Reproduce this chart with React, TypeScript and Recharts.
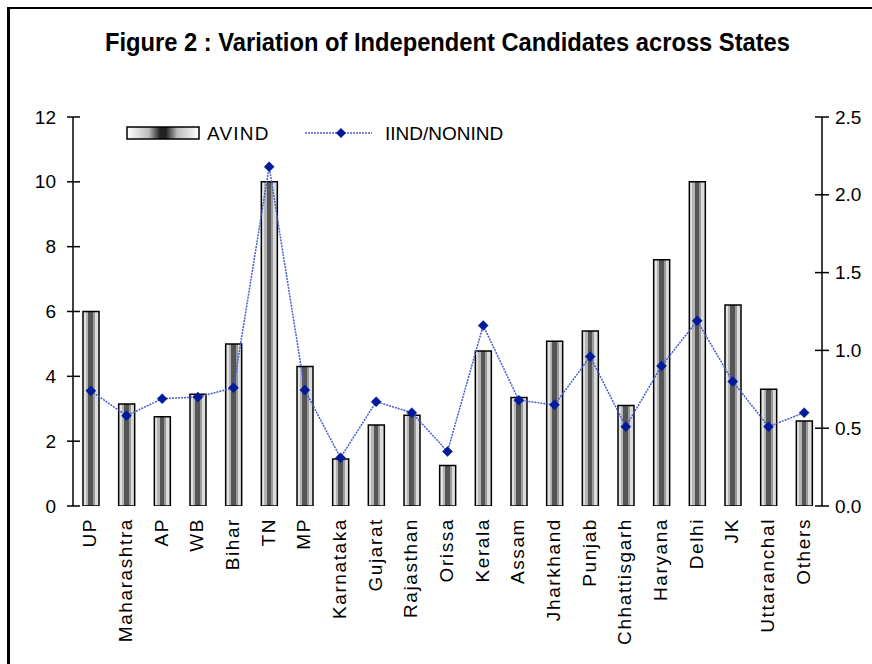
import React from 'react';
import { ComposedChart, Bar, Line, XAxis, YAxis } from 'recharts';

const states = ['UP', 'Maharashtra', 'AP', 'WB', 'Bihar', 'TN', 'MP', 'Karnataka', 'Gujarat', 'Rajasthan', 'Orissa', 'Kerala', 'Assam', 'Jharkhand', 'Punjab', 'Chhattisgarh', 'Haryana', 'Delhi', 'JK', 'Uttaranchal', 'Others'];
const avind = [6.0, 3.15, 2.75, 3.45, 5.0, 10.0, 4.3, 1.45, 2.5, 2.8, 1.25, 4.78, 3.35, 5.08, 5.4, 3.1, 7.6, 10.0, 6.2, 3.6, 2.62];
const iindNonind = [0.74, 0.58, 0.69, 0.7, 0.76, 2.18, 0.745, 0.31, 0.67, 0.6, 0.35, 1.16, 0.68, 0.65, 0.96, 0.51, 0.9, 1.19, 0.8, 0.51, 0.6];
const leftTicks = [0, 2, 4, 6, 8, 10, 12];
const rightTicks = [0, 0.5, 1, 1.5, 2, 2.5];
const boundaryTicks = states.map((_, i) => i).concat([states.length]);

const data = states.map((s, i) => ({ state: s, AVIND: avind[i], IIND: iindNonind[i] }));

const FONT = "'Liberation Sans', Arial, sans-serif";
const LINE_COLOR = '#4a5ccf';
const DOT_COLOR = '#001a99';

const LeftTick = (props: any) => {
  const { x, y, payload } = props;
  return (
    <g>
      <line x1={x - 6} x2={x + 7} y1={y} y2={y} stroke="#000" strokeWidth={1.5} />
      <text x={x - 17} y={y} textAnchor="end" dominantBaseline="central" fontSize={19} fontFamily={FONT} fill="#000">
        {payload.value}
      </text>
    </g>
  );
};

const RightTick = (props: any) => {
  const { x, y, payload } = props;
  return (
    <g>
      <line x1={x - 7} x2={x + 7} y1={y} y2={y} stroke="#000" strokeWidth={1.5} />
      <text x={x + 13} y={y} textAnchor="start" dominantBaseline="central" fontSize={19} fontFamily={FONT} fill="#000">
        {Number(payload.value).toFixed(1)}
      </text>
    </g>
  );
};

const BoundaryTick = (props: any) => {
  const { x, y } = props;
  return <line x1={x} x2={x} y1={y - 7} y2={y + 6} stroke="#000" strokeWidth={1.5} />;
};

const CatTick = (props: any) => {
  const { x, y, payload } = props;
  const tx = x - 1;
  const ty = y + 12;
  return (
    <text
      x={tx}
      y={ty}
      transform={`rotate(-90, ${tx}, ${ty})`}
      textAnchor="end"
      dominantBaseline="central"
      fontSize={19}
      letterSpacing={1.6}
      fontFamily={FONT}
      fill="#000"
    >
      {payload.value}
    </text>
  );
};

const Diamond = (props: any) => {
  const { cx, cy } = props;
  if (cx == null || cy == null) return null;
  const r = 5;
  return <polygon points={`${cx},${cy - r} ${cx + r},${cy} ${cx},${cy + r} ${cx - r},${cy}`} fill={DOT_COLOR} stroke={DOT_COLOR} strokeWidth={0.5} />;
};

const Legend = () => (
  <svg width={420} height={30} style={{ position: 'absolute', left: 120, top: 117 }}>
    <defs>
      <linearGradient id="legGrad" x1="0" y1="0" x2="1" y2="0">
        <stop offset="0%" stopColor="#ffffff" />
        <stop offset="30%" stopColor="#bdbdbd" />
        <stop offset="46%" stopColor="#222222" />
        <stop offset="54%" stopColor="#222222" />
        <stop offset="70%" stopColor="#bdbdbd" />
        <stop offset="100%" stopColor="#ffffff" />
      </linearGradient>
    </defs>
    <rect x={7} y={10} width={72} height={12} fill="url(#legGrad)" stroke="#000" strokeWidth={1.5} />
    <text x={87} y={16} dominantBaseline="central" fontSize={19} letterSpacing={1.2} fontFamily={FONT} fill="#000">AVIND</text>
    <line x1={185} x2={252} y1={16} y2={16} stroke={LINE_COLOR} strokeWidth={1.5} strokeDasharray="2 1" />
    <polygon points="221,11 226,16 221,21 216,16" fill={DOT_COLOR} />
    <text x={265} y={16} dominantBaseline="central" fontSize={19} fontFamily={FONT} fill="#000">IIND/NONIND</text>
  </svg>
);

const Title = () => (
  <svg width={872} height={60} style={{ position: 'absolute', left: 0, top: 14 }}>
    <text
      x={105}
      y={37}
      textLength={685}
      lengthAdjust="spacingAndGlyphs"
      fontSize={26}
      fontWeight="bold"
      fontFamily={FONT}
      fill="#000"
    >
      Figure 2 : Variation of Independent Candidates across States
    </text>
  </svg>
);

export default function App() {
  return (
    <div style={{ position: 'absolute', left: 0, top: 0, width: 872, height: 664, background: '#fff', overflow: 'hidden' }}>
      <div style={{ position: 'absolute', left: 7, top: 7, width: 900, height: 700, borderLeft: '3px solid #000', borderTop: '2px solid #000' }} />
      <Title />
      <div style={{ position: 'absolute', left: 0, top: 0 }}>
        <ComposedChart width={872} height={664} data={data} margin={{ top: 117, right: 0, bottom: 0, left: 0 }}>
          <defs>
            <linearGradient id="barGrad" x1="0" y1="0" x2="1" y2="0">
              <stop offset="0%" stopColor="#e2e2e2" />
              <stop offset="18%" stopColor="#e2e2e2" />
              <stop offset="18%" stopColor="#b4b4b4" />
              <stop offset="34%" stopColor="#b4b4b4" />
              <stop offset="34%" stopColor="#555555" />
              <stop offset="62%" stopColor="#555555" />
              <stop offset="62%" stopColor="#9a9a9a" />
              <stop offset="76%" stopColor="#9a9a9a" />
              <stop offset="76%" stopColor="#dcdcdc" />
              <stop offset="100%" stopColor="#dcdcdc" />
            </linearGradient>
          </defs>
          <XAxis
            xAxisId="grid"
            type="number"
            domain={[0, states.length]}
            ticks={boundaryTicks}
            allowDataOverflow
            height={0}
            tickSize={0}
            tickMargin={0}
            tickLine={false}
            tick={<BoundaryTick />}
            axisLine={{ stroke: '#000', strokeWidth: 1.5 }}
            interval={0}
          />
          <XAxis
            dataKey="state"
            height={158}
            axisLine={false}
            tickLine={false}
            tickSize={0}
            tickMargin={0}
            interval={0}
            tick={<CatTick />}
          />
          <YAxis
            yAxisId="left"
            orientation="left"
            width={73}
            domain={[0, 12]}
            ticks={leftTicks}
            allowDataOverflow
            tickSize={0}
            tickMargin={0}
            tickLine={false}
            tick={<LeftTick />}
            axisLine={{ stroke: '#000', strokeWidth: 1.5 }}
            interval={0}
          />
          <YAxis
            yAxisId="right"
            orientation="right"
            width={50}
            domain={[0, 2.5]}
            ticks={rightTicks}
            allowDataOverflow
            tickSize={0}
            tickMargin={0}
            tickLine={false}
            tick={<RightTick />}
            axisLine={{ stroke: '#000', strokeWidth: 1.5 }}
            interval={0}
          />
          <Bar yAxisId="left" dataKey="AVIND" barSize={16} fill="url(#barGrad)" stroke="#000" strokeWidth={1.5} isAnimationActive={false} />
          <Line
            yAxisId="right"
            dataKey="IIND"
            type="linear"
            stroke={LINE_COLOR}
            strokeWidth={1.5}
            strokeDasharray="2 1"
            dot={<Diamond />}
            activeDot={false}
            isAnimationActive={false}
          />
        </ComposedChart>
      </div>
      <Legend />
    </div>
  );
}
